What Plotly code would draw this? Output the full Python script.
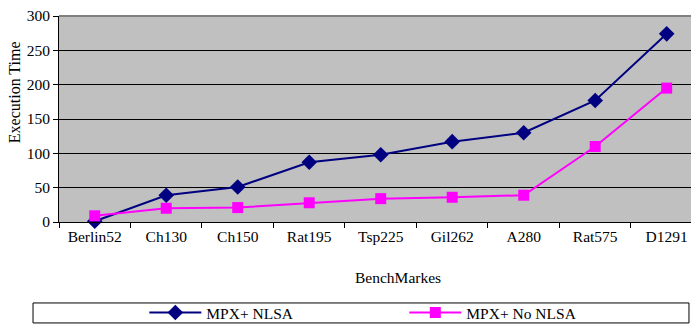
import plotly.graph_objects as go

categories = ["Berlin52", "Ch130", "Ch150", "Rat195", "Tsp225", "Gil262", "A280", "Rat575", "D1291"]
nlsa = [1, 39, 51, 87, 98, 117, 130, 177, 274]
no_nlsa = [9, 20, 21, 28, 34, 36, 39, 110, 195]
y_ticks = [0, 50, 100, 150, 200, 250, 300]

FONT = "Liberation Serif"

fig = go.Figure()
fig.add_trace(go.Scatter(
    x=categories, y=nlsa, name="MPX+ NLSA", mode="lines+markers",
    line=dict(color="#000080", width=2),
    marker=dict(symbol="diamond", size=12, color="#000080"),
    cliponaxis=False,
))
fig.add_trace(go.Scatter(
    x=categories, y=no_nlsa, name="MPX+ No NLSA", mode="lines+markers",
    line=dict(color="#FF00FF", width=2),
    marker=dict(symbol="square", size=11, color="#FF00FF"),
    cliponaxis=False,
))

fig.update_layout(
    width=691, height=324,
    margin=dict(l=59, r=0, t=16, b=102, autoexpand=False),
    paper_bgcolor="white",
    plot_bgcolor="#C0C0C0",
    font=dict(family=FONT, size=15.5, color="black"),
    showlegend=True,
    legend=dict(
        orientation="h", x=0.135, xanchor="left", y=-0.359, yanchor="top",
        bgcolor="rgba(0,0,0,0)", borderwidth=0,
        itemwidth=52, entrywidth=193, entrywidthmode="pixels",
        font=dict(family=FONT, size=15.5, color="black"),
        tracegroupgap=0,
    ),
    xaxis=dict(
        type="category", range=[-0.5, 8.34], automargin=False,
        showline=True, linecolor="black", linewidth=1,
        ticks="outside", tickson="boundaries", ticklen=5, tickcolor="black",
        showgrid=False, zeroline=False,
        tickfont=dict(family=FONT, size=15.5, color="black"),
    ),
    yaxis=dict(
        range=[0, 300], tickvals=y_ticks, automargin=False,
        showline=True, linecolor="black", linewidth=1,
        ticks="outside", ticklen=5, tickcolor="black",
        showgrid=True, gridcolor="black", gridwidth=1,
        zeroline=False,
        tickfont=dict(family=FONT, size=15.5, color="black"),
    ),
    shapes=[
        dict(type="line", xref="paper", yref="paper", x0=0, x1=1, y0=1, y1=1,
             line=dict(color="#808080", width=2)),
        dict(type="rect", xref="paper", yref="paper",
             x0=-0.0411, x1=0.9968, y0=-0.490, y1=-0.393,
             line=dict(color="black", width=1), fillcolor="rgba(0,0,0,0)"),
    ],
    annotations=[
        dict(text="Execution Time", textangle=-90, xref="paper", yref="paper",
             x=0, y=0.63, xshift=-45, xanchor="center", yanchor="middle",
             showarrow=False, font=dict(family=FONT, size=16, color="black")),
        dict(text="BenchMarkes", xref="paper", yref="paper",
             x=(398 - 59) / 632, y=(222 - 277) / 206, xanchor="center", yanchor="middle",
             showarrow=False, font=dict(family=FONT, size=15.5, color="black")),
    ],
)

fig.write_html("out.html", config={"displayModeBar": False},
               post_script="document.body.style.margin='0';document.body.style.overflow='hidden';")
